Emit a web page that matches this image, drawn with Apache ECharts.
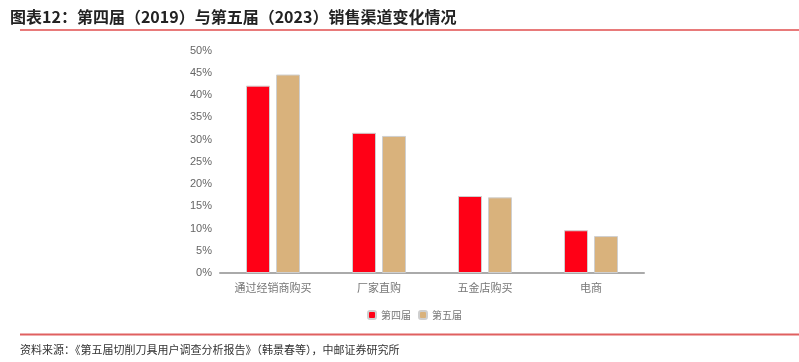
<!DOCTYPE html>
<html><head><meta charset="utf-8">
<script src="https://cdn.jsdelivr.net/npm/echarts@6/dist/echarts.min.js"></script>
<style>html,body{margin:0;padding:0;background:#fff;}#c{width:799px;height:362px;}</style>
</head><body><div id="c"></div>
<script>
var categories = ['通过经销商购买', '厂家直购', '五金店购买', '电商'];
var series4 = [42.1, 31.5, 17.3, 9.6];
var series5 = [44.6, 30.8, 17.0, 8.3];
var seriesNames = ['第四届', '第五届'];
var yTicks = [0, 5, 10, 15, 20, 25, 30, 35, 40, 45, 50];

var chart = echarts.init(document.getElementById('c'), null, {renderer: 'canvas'});
var cjk = '"Noto Sans CJK SC", sans-serif';
chart.setOption({
  animation: false,
  backgroundColor: '#fff',
  title: {
    text: '图表12：第四届（2019）与第五届（2023）销售渠道变化情况',
    left: 5, top: 4,
    textStyle: {fontFamily: cjk, fontSize: 16, fontWeight: 'bold', color: '#222'}
  },
  graphic: [
    {type: 'line', shape: {x1: 20, y1: 30, x2: 799, y2: 30}, style: {stroke: '#e87a7a', lineWidth: 2}},
    {type: 'line', shape: {x1: 20, y1: 334.5, x2: 799, y2: 334.5}, style: {stroke: '#e06060', lineWidth: 2}},
    {type: 'text', left: 20, top: 344, style: {text: '资料来源：《第五届切削刀具用户调查分析报告》（韩景春等），中邮证券研究所', font: '11px "Noto Sans CJK SC"', fill: '#333'}}
  ],
  legend: {
    data: seriesNames,
    left: 362, top: 305,
    itemWidth: 8, itemHeight: 8, itemGap: 7,
    textStyle: {fontFamily: cjk, fontSize: 10, color: '#777'}
  },
  grid: {left: 220, right: 155, top: 50.5, bottom: 89},
  xAxis: {
    type: 'category', data: categories,
    axisLine: {lineStyle: {color: '#aaa', width: 2}},
    axisTick: {show: false},
    axisLabel: {fontFamily: cjk, fontSize: 11, color: '#777', margin: 9}
  },
  yAxis: {
    type: 'value', min: yTicks[0], max: yTicks[yTicks.length - 1], interval: 5,
    splitLine: {show: false},
    axisLine: {show: false}, axisTick: {show: false},
    axisLabel: {formatter: '{value}%', fontFamily: 'Liberation Sans', fontSize: 11, color: '#666', margin: 8}
  },
  series: [
    {name: seriesNames[0], type: 'bar', data: series4, barWidth: 24, barGap: '25%',
     itemStyle: {color: '#ff0016', borderColor: '#cfcfcf', borderWidth: 1}},
    {name: seriesNames[1], type: 'bar', data: series5, barWidth: 24,
     itemStyle: {color: '#d9b27c', borderColor: '#cfcfcf', borderWidth: 1}}
  ]
});
</script></body></html>
